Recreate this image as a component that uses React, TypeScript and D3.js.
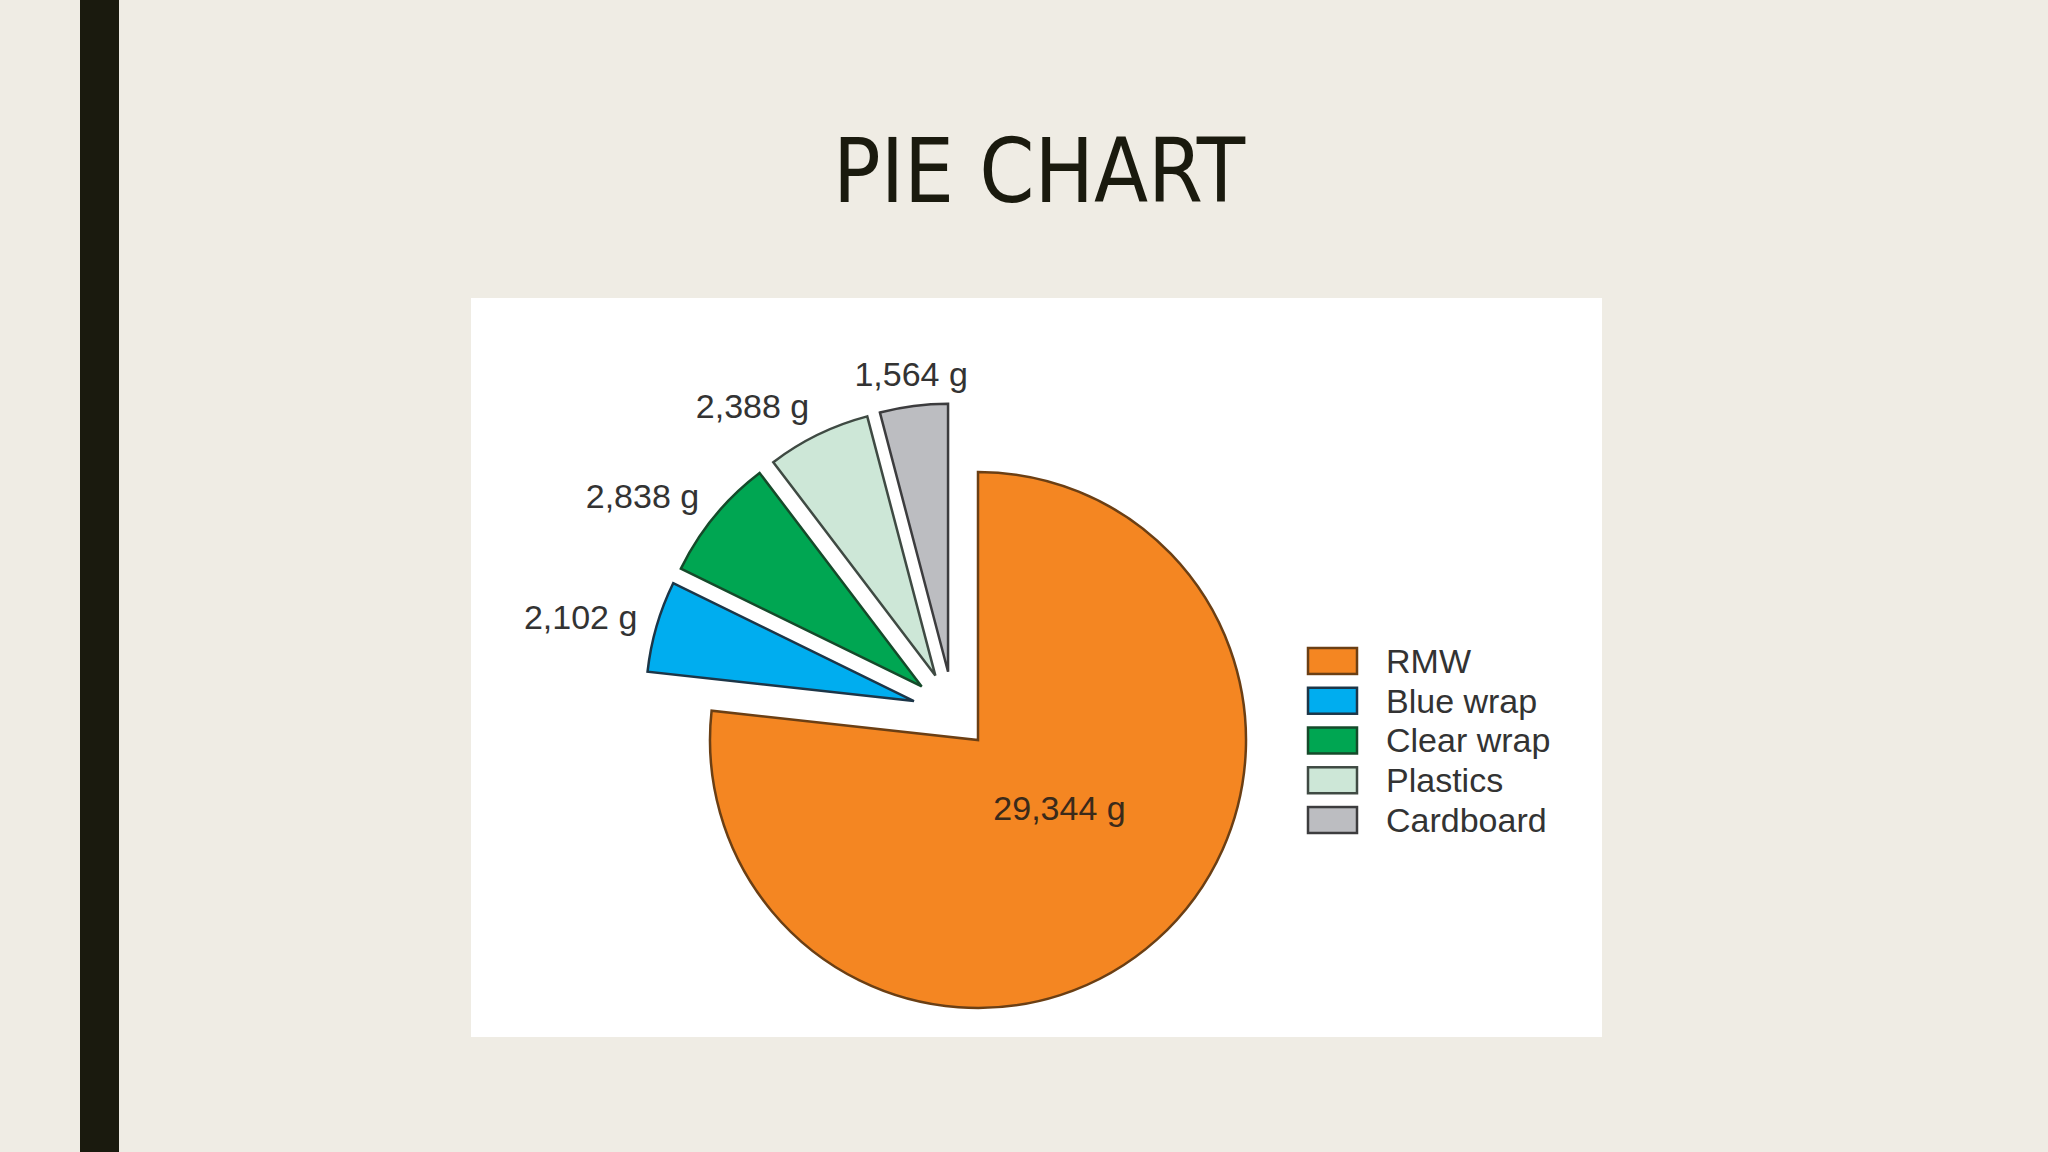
import React from "react";
import * as d3 from "d3";

// waste composition, grams
const categories = ["RMW", "Blue wrap", "Clear wrap", "Plastics", "Cardboard"];
const weights = [29344, 2102, 2838, 2388, 1564];
const fills = ["#f48622", "#00adef", "#00a652", "#cde7d7", "#bcbdc1"];
const strokes = ["#6b3f14", "#1c3648", "#154a2a", "#3f4a43", "#3c3c3e"];

const W = 2048;
const H = 1152;
const cx = 978;
const cy = 740;
const r = 268;
const groupShift = 37; // small slices pushed out together
const sliceShift = 41; // and each one out of its neighbours
const labelPad = 20;
const fontSize = 34;

const fmt = d3.format(",");
const unit = (a: number) => [Math.sin(a), -Math.cos(a)];

export default function App() {
  const pie = d3.pie<number>().sort(null).value((d) => d);
  const slices = pie(weights);
  const arc = d3.arc<d3.PieArcDatum<number>>().innerRadius(0).outerRadius(r);
  const centreArc = d3.arc<d3.PieArcDatum<number>>().innerRadius(0).outerRadius(r * 0.8);

  const small = slices.slice(1);
  const groupMid = (small[0].startAngle + small[small.length - 1].endAngle) / 2;
  const [gx, gy] = unit(groupMid);

  const color = d3.scaleOrdinal<string, string>().domain(categories).range(fills);
  const edge = d3.scaleOrdinal<string, string>().domain(categories).range(strokes);

  const legendY = d3.scaleBand<string>().domain(categories).range([648, 833]).paddingInner(0.347);

  return (
    <div style={{ position: "fixed", left: 0, top: 0 }}>
      <svg width={W} height={H} style={{ display: "block" }} fontFamily="'Liberation Sans', Arial, sans-serif">
        <rect width={W} height={H} fill="#efece4" />
        <rect x={80} y={0} width={39} height={H} fill="#1a1a0e" />
        <text
          x={833}
          y={202}
          fontSize={89}
          textLength={412}
          lengthAdjust="spacingAndGlyphs"
          fontFamily="'Liberation Sans Narrow', 'DejaVu Sans Condensed', 'Liberation Sans', sans-serif"
          fill="#1a1a0e"
        >
          PIE CHART
        </text>

        <rect x={471} y={298} width={1131} height={739} fill="#ffffff" />

        {slices.map((s, i) => {
          const mid = (s.startAngle + s.endAngle) / 2;
          const [ux, uy] = unit(mid);
          const dx = i === 0 ? 0 : groupShift * gx + sliceShift * ux;
          const dy = i === 0 ? 0 : groupShift * gy + sliceShift * uy;
          const tx = cx + dx;
          const ty = cy + dy;
          let label;
          if (i === 0) {
            const [lx, ly] = centreArc.centroid(s);
            label = (
              <text x={tx + lx + 10} y={ty + ly} textAnchor="middle" fontSize={fontSize} fill="#3a2a1a">
                {fmt(weights[i])} g
              </text>
            );
          } else {
            const ax = tx + ux * (r + labelPad);
            const ay = ty + uy * (r + labelPad);
            label = (
              <text
                x={ax}
                y={ay + uy * 12 + 12}
                textAnchor={ux < -0.3 ? "end" : "middle"}
                fontSize={fontSize}
                fill="#333333"
              >
                {fmt(weights[i])} g
              </text>
            );
          }
          return (
            <g key={categories[i]}>
              <path
                d={arc(s) || ""}
                transform={`translate(${tx},${ty})`}
                fill={color(categories[i])}
                stroke={edge(categories[i])}
                strokeWidth={2.5}
              />
              {label}
            </g>
          );
        })}

        {categories.map((c) => (
          <g key={c} transform={`translate(1308,${legendY(c)})`}>
            <rect width={49} height={legendY.bandwidth()} fill={color(c)} stroke={edge(c)} strokeWidth={2.5} />
            <text x={78} y={legendY.bandwidth() - 1} fontSize={fontSize} fill="#333333">
              {c}
            </text>
          </g>
        ))}
      </svg>
    </div>
  );
}
